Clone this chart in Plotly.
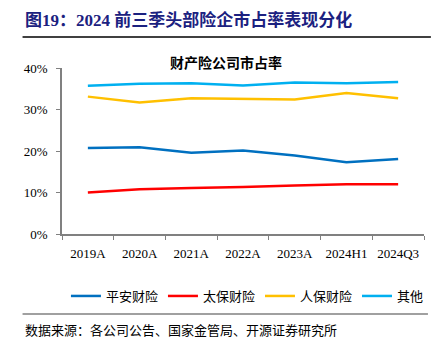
import plotly.graph_objects as go

categories = ["2019A", "2020A", "2021A", "2022A", "2023A", "2024H1", "2024Q3"]
pingan = [0.207, 0.209, 0.196, 0.201, 0.189, 0.173, 0.181]
taibao = [0.100, 0.108, 0.111, 0.113, 0.117, 0.120, 0.120]
renbao = [0.331, 0.317, 0.327, 0.326, 0.324, 0.340, 0.327]
others = [0.357, 0.362, 0.363, 0.358, 0.365, 0.363, 0.366]

series = [
    ("平安财险", pingan, "#0070C0"),
    ("太保财险", taibao, "#FF0000"),
    ("人保财险", renbao, "#FFC000"),
    ("其他", others, "#00B0F0"),
]

W, H = 436, 353
L, R, T, B = 62, 7, 68, 119
pw, ph = W - L - R, H - T - B

def px(x):
    return (x - L) / pw

def py(y):
    return (H - B - y) / ph

serif = "Liberation Serif, Noto Sans CJK SC, serif"
cjk = "Noto Sans CJK SC, sans-serif"

fig = go.Figure()
for name, vals, color in series:
    fig.add_trace(go.Scatter(x=categories, y=vals, name=name, mode="lines",
                             line=dict(color=color, width=2.5)))

fig.update_layout(
    width=W, height=H,
    margin=dict(l=L, r=R, t=T, b=B),
    plot_bgcolor="white", paper_bgcolor="white",
    showlegend=True,
    legend=dict(orientation="h", x=px(250), xanchor="center", y=py(296), yanchor="middle",
                font=dict(family=cjk, size=13, color="#000000"),
                itemwidth=30, tracegroupgap=0),
    xaxis=dict(type="category", range=[-0.5, 6.5], tickson="boundaries",
               ticks="outside", ticklen=4, tickcolor="#808080",
               showline=True, linecolor="#808080", linewidth=1.5,
               showgrid=False, ticklabelstandoff=7,
               tickfont=dict(family=serif, size=13, color="#000")),
    yaxis=dict(range=[0, 0.4], dtick=0.1, tickformat=".0%",
               ticks="outside", ticklen=4, tickcolor="#808080",
               showline=True, linecolor="#808080", linewidth=1.5,
               showgrid=False, zeroline=False, ticklabelstandoff=6,
               tickfont=dict(family=serif, size=13, color="#000")),
)

fig.add_annotation(xref="paper", yref="paper", x=px(22), y=py(20), xanchor="left", yanchor="middle",
                   text="<b>图19：2024 前三季头部险企市占率表现分化</b>", showarrow=False,
                   font=dict(family=serif, size=17, color="#1B2180"))
fig.add_annotation(xref="paper", yref="paper", x=px(228), y=py(62), xanchor="center", yanchor="middle",
                   text="<b>财产险公司市占率</b>", showarrow=False,
                   font=dict(family=cjk, size=14, color="#000"))
fig.add_annotation(xref="paper", yref="paper", x=px(22), y=py(329), xanchor="left", yanchor="middle",
                   text="数据来源：各公司公告、国家金管局、开源证券研究所", showarrow=False,
                   font=dict(family=cjk, size=13, color="#000"))

fig.add_shape(type="line", xref="paper", yref="paper", x0=px(22), x1=px(436), y0=py(37), y1=py(37),
              line=dict(color="#000", width=1.5))
fig.add_shape(type="line", xref="paper", yref="paper", x0=px(22), x1=px(433), y0=py(314), y1=py(314),
              line=dict(color="#808080", width=1.5))

fig.write_html("out.html")
